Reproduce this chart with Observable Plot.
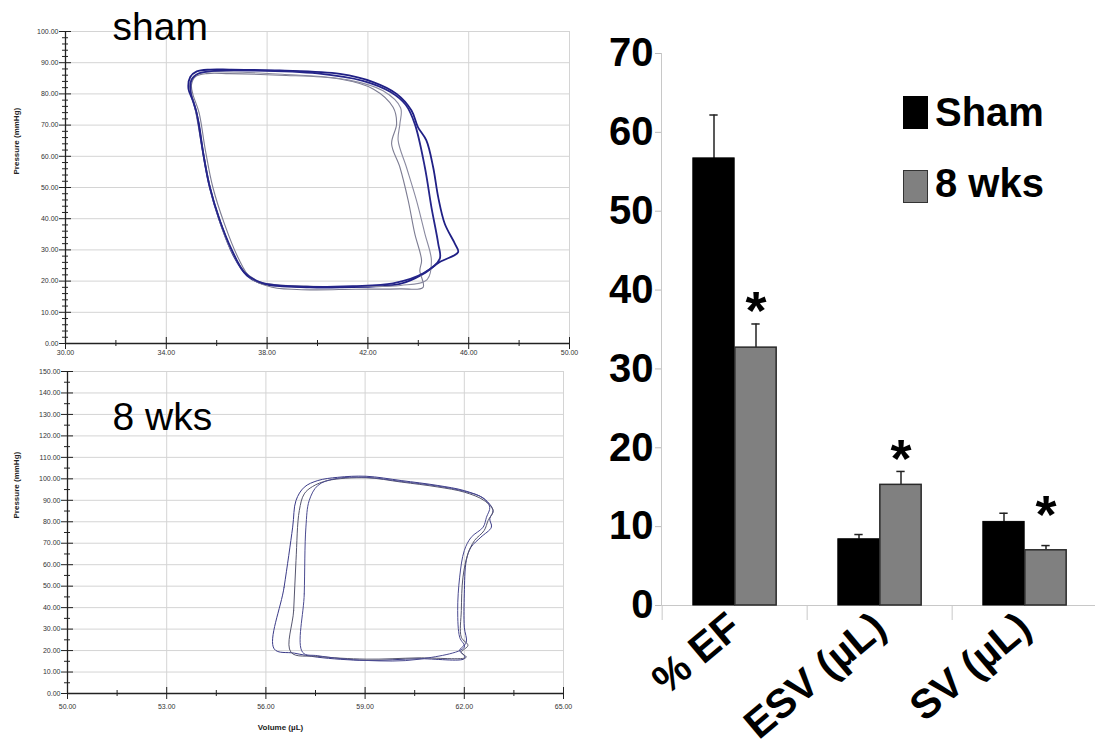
<!DOCTYPE html>
<html>
<head>
<meta charset="utf-8">
<script src="https://cdn.jsdelivr.net/npm/d3@7"></script>
<script src="https://cdn.jsdelivr.net/npm/@observablehq/plot@0.6"></script>
<style>
  html, body { margin: 0; padding: 0; background: #fff; }
  #wrap { position: relative; width: 1095px; height: 756px; overflow: hidden; background: #fff; font-family: "Liberation Sans", Arial, sans-serif; }
  .pane { position: absolute; }
  .pane svg { background: transparent !important; overflow: visible; }
  .leg { position: absolute; left: 903px; display: flex; align-items: flex-end; font-weight: bold; font-size: 40px; line-height: 1; }
  .sw { width: 25px; height: 33px; box-sizing: border-box; margin-right: 7px; }
</style>
</head>
<body>
<div id="wrap">
  <div class="pane" id="sham" style="left:0;top:0"></div>
  <div class="pane" id="wks" style="left:0;top:360px"></div>
  <div class="pane" id="bars" style="left:590px;top:0"></div>
  <div class="leg" style="top:89px"><div class="sw" style="background:#000"></div><span style="position:relative;top:3px">Sham</span></div>
  <div class="leg" style="top:163px"><div class="sw" style="background:#808080;border:1.5px solid #333"></div><span style="position:relative;top:0px">8 wks</span></div>
</div>
<script>
// ---------- Bar chart data ----------
const categories = ["% EF", "ESV (µL)", "SV (µL)"];
const groups = ["Sham", "8 wks"];
const shamMean = [56.7, 8.4, 10.6];
const shamSem  = [5.5, 0.6, 1.1];
const wksMean  = [32.7, 15.3, 7.0];
const wksSem   = [3.0, 1.7, 0.6];
const starred  = [true, true, true];
const barTicks = [0, 10, 20, 30, 40, 50, 60, 70];

// ---------- PV loop axes ----------
const shamVolTicks = [30, 34, 38, 42, 46, 50];
const shamVolMinor = [32, 36, 40, 44, 48];
const shamPresTicks = [0, 10, 20, 30, 40, 50, 60, 70, 80, 90, 100];
const shamPresMinor = [2,4,6,8,12,14,16,18,22,24,26,28,32,34,36,38,42,44,46,48,52,54,56,58,62,64,66,68,72,74,76,78,82,84,86,88,92,94,96,98];
const wksVolTicks = [50, 53, 56, 59, 62, 65];
const wksVolMinor = [51.5, 54.5, 57.5, 60.5, 63.5];
const wksPresTicks = [0,10,20,30,40,50,60,70,80,90,100,110,120,130,140,150];
const wksPresMinor = [5,15,25,35,45,55,65,75,85,95,105,115,125,135,145];

// ---------- PV loops [volume µL, pressure mmHg] ----------
const shamLoop1 = [[45.58,29.3],[45.45,32.0],[45.05,38.4],[44.79,46.9],[44.59,56.5],[44.32,65.1],[43.99,69.3],[43.73,74.7],[43.14,80.0],[42.21,83.8],[40.89,86.4],[38.5,87.5],[36.5,87.8],[35.74,87.8],[35.21,87.2],[34.95,85.4],[34.88,81.6],[35.08,77.4],[35.28,70.9],[35.48,60.3],[35.74,49.6],[36.14,38.9],[36.67,28.2],[37.2,21.8],[37.85,19.1],[39.7,18.0],[40.89,18.0],[43.27,19.1],[44.19,22.3],[44.85,26.1]];
const shamLoop2 = [[44.19,18.0],[44.06,23.4],[44.13,26.6],[43.86,35.2],[43.6,45.8],[43.27,56.5],[42.94,64.0],[43.14,70.4],[43.0,75.7],[42.21,81.6],[40.89,84.8],[38.5,86.0],[36.5,86.5],[35.6,86.5],[35.15,85.5],[35.0,83.0],[35.05,80.0],[35.3,74.0],[35.55,62.0],[35.85,50.0],[36.3,38.5],[36.85,27.5],[37.35,21.0],[38.2,18.0],[39.7,17.2],[41.5,17.4],[43.27,17.5]];
const shamLoop3 = [[44.35,20.5],[44.52,26.6],[44.26,35.2],[43.93,45.8],[43.53,56.5],[43.2,65.1],[43.27,70.4],[43.3,75.5],[42.6,81.0],[41.2,84.5],[38.6,86.3],[36.5,87.0],[35.6,87.0],[35.1,85.8],[34.93,82.5],[35.1,77.0],[35.35,66.0],[35.62,54.0],[36.0,42.0],[36.5,31.0],[37.05,23.5],[37.7,19.8],[39.5,18.4],[41.5,18.3],[43.3,18.6]];
const shamLoop4 = [[44.85,27.1],[44.79,32.0],[44.52,43.7],[44.26,56.5],[43.86,70.4],[43.5,76.5],[42.9,80.6],[41.8,84.2],[40.0,86.6],[37.5,87.5],[35.9,87.4],[35.3,86.6],[35.0,84.5],[34.97,80.5],[35.2,74.0],[35.42,63.0],[35.7,51.0],[36.1,40.0],[36.6,30.0],[37.1,22.8],[37.8,19.4],[39.6,18.2],[41.4,18.4],[43.0,19.3],[44.2,22.5]];

const wksLoop1 = [[56.25,20.8],[56.55,49.5],[56.81,77.5],[56.91,89.9],[57.16,96.1],[57.57,99.2],[58.17,100.7],[59.03,101.2],[60.09,99.2],[61.2,96.9],[62.0,94.5],[62.6,90.7],[62.87,85.2],[62.77,81.4],[62.82,77.5],[62.5,72.8],[62.2,68.1],[62.06,61.9],[62.0,46.4],[62.0,30.9],[62.06,23.9],[61.86,20.0],[62.0,17.7],[62.0,16.2],[60.6,16.2],[59.03,15.4],[57.57,16.9],[56.86,18.8]];
const wksLoop2 = [[56.76,19.2],[56.84,38.7],[56.91,61.9],[57.01,85.2],[57.16,93.0],[57.41,96.4],[57.87,99.2],[59.03,100.5],[60.09,98.5],[61.2,96.2],[62.0,93.8],[62.6,89.9],[62.87,85.2],[62.72,80.6],[62.6,75.9],[62.31,71.3],[62.11,65.1],[61.96,54.2],[61.91,38.7],[61.91,26.2],[62.11,22.4],[61.91,19.2],[62.06,16.9],[60.6,16.6],[59.03,16.0],[57.57,17.3]];
const wksLoop3 = [[57.11,19.2],[57.16,46.4],[57.21,77.5],[57.31,89.9],[57.57,96.9],[58.07,100.0],[59.03,100.7],[60.09,98.8],[61.2,96.6],[62.0,94.2],[62.57,91.1],[62.77,86.8],[62.67,82.1],[62.57,77.5],[62.21,72.8],[62.0,66.6],[61.86,54.2],[61.8,38.7],[61.86,26.2],[62.0,21.6],[60.6,15.9],[59.03,15.4],[57.57,17.6]];

const shamLoops = [shamLoop1, shamLoop2, shamLoop3, shamLoop4];
const wksLoops = [wksLoop1, wksLoop2, wksLoop3];
const shamColors = ["#1f1f85", "#7c7c92", "#8a8aa0", "#25258a"];
const wksColors = ["#3b3b88", "#56566e", "#4a4a90"];

const rows = (loops) => loops.flatMap((L, k) => L.map(([v, p]) => ({loop: k, v, p})));
const fmt2 = d3.format(".2f");
const FONT = "Liberation Sans, Arial, sans-serif";

function pvPlot(o) {
  const fw = o.width - o.ml - o.mr, fh = o.height - o.mt - o.mb;
  const data = rows(o.loops);
  const marks = [
    Plot.gridX(o.xTicks, {stroke: "#d4d4d4", strokeOpacity: 1}),
    Plot.gridY(o.yTicks, {stroke: "#d4d4d4", strokeOpacity: 1}),
    ...o.loops.map((_, k) => Plot.line(data.filter(d => d.loop === k), {x: "v", y: "p", curve: "catmull-rom-closed", stroke: o.colors[k], strokeWidth: o.lw[k]})),
    Plot.ruleX([o.xDomain[0]], {stroke: "#222", strokeWidth: 1.3}),
    Plot.ruleY([0], {stroke: "#222", strokeWidth: 1.3}),
    Plot.tickY(o.yTicks, {y: d => d, insetLeft: -6, insetRight: fw - 6, stroke: "#222"}),
    Plot.tickY(o.yMinor, {y: d => d, insetLeft: -3, insetRight: fw - 3, stroke: "#222"}),
    Plot.tickX(o.xTicks, {x: d => d, insetTop: fh - 6, insetBottom: -6, stroke: "#222"}),
    Plot.tickX(o.xMinor, {x: d => d, insetTop: fh - 3, insetBottom: -3, stroke: "#222"}),
    Plot.axisY(o.yTicks, {tickSize: 0, tickPadding: 7, tickFormat: fmt2, fontSize: 7, fill: "#333", label: null}),
    Plot.axisX(o.xTicks, {tickSize: 0, tickPadding: o.xPad, tickFormat: fmt2, fontSize: 7, fill: "#333", label: null}),
    Plot.text([o.yLabel], {frameAnchor: "left", dx: o.yLabDx, dy: o.yLabDy, rotate: -90, fontSize: 8, fontWeight: "bold", fill: "#222"}),
    Plot.text([o.title], {frameAnchor: "top-left", dx: o.titleDx, dy: o.titleDy, lineAnchor: "top", textAnchor: "start", fontSize: 39, fill: "#000"})
  ];
  if (o.xLabel) marks.push(Plot.text([o.xLabel], {frameAnchor: "bottom", dx: o.xLabDx, dy: o.xLabDy, fontSize: 8, fontWeight: "bold", fill: "#222"}));
  return Plot.plot({
    width: o.width, height: o.height,
    marginLeft: o.ml, marginRight: o.mr, marginTop: o.mt, marginBottom: o.mb,
    style: {fontFamily: FONT, background: "transparent", overflow: "visible"},
    x: {domain: o.xDomain, axis: null},
    y: {domain: o.yDomain, axis: null},
    marks
  });
}

document.getElementById("sham").append(pvPlot({
  width: 590, height: 360, ml: 65, mr: 21, mt: 31, mb: 17,
  loops: shamLoops, colors: shamColors, lw: [1.8, 1.1, 1.1, 1.8],
  xDomain: [30, 50], yDomain: [0, 100],
  xTicks: shamVolTicks, xMinor: shamVolMinor, yTicks: shamPresTicks, yMinor: shamPresMinor,
  xPad: 7, yLabel: "Pressure (mmHg)", yLabDx: -49, yLabDy: -13,
  title: "sham", titleDx: 47, titleDy: -19
}));

document.getElementById("wks").append(pvPlot({
  width: 590, height: 396, ml: 67, mr: 27, mt: 11, mb: 63,
  loops: wksLoops, colors: wksColors, lw: [1.0, 1.0, 1.0],
  xDomain: [50, 65], yDomain: [0, 150],
  xTicks: wksVolTicks, xMinor: wksVolMinor, yTicks: wksPresTicks, yMinor: wksPresMinor,
  xPad: 11, yLabel: "Pressure (mmHg)", yLabDx: -51, yLabDy: -14,
  title: "8 wks", titleDx: 45, titleDy: 31,
  xLabel: "Volume (µL)", xLabDx: -35, xLabDy: 36
}));

// ---------- Bar chart ----------
const barData = categories.map((c, i) => ({cat: c, sham: shamMean[i], shamSem: shamSem[i], wks: wksMean[i], wksSem: wksSem[i], star: starred[i]}));
const bandW = 437 / 3;
const half = 21;
const inset = (bandW - 42) / 2;
const capInset = (bandW - 9) / 2;

document.getElementById("bars").append(Plot.plot({
  width: 505, height: 756,
  marginLeft: 71, marginRight: 0, marginTop: 53, marginBottom: 151,
  style: {fontFamily: FONT, fontSize: "40px", fontWeight: "bold", background: "transparent", overflow: "visible"},
  x: {type: "band", domain: categories, range: [71, 508], padding: 0, axis: null},
  y: {domain: [0, 70], axis: null},
  marks: [
    Plot.ruleY([0], {stroke: "#c8c8c8", strokeWidth: 1}),
    Plot.frame({anchor: "left", stroke: "#c8c8c8", strokeWidth: 1}),
    Plot.ruleX(categories, {x: d => d, y1: 0, y2: 0, dx: -bandW / 2, insetBottom: -15, stroke: "#c8c8c8", strokeWidth: 1}),
    Plot.ruleX(barData, {x: "cat", y1: "sham", y2: d => d.sham + d.shamSem, dx: -half, stroke: "#222", strokeWidth: 1.5}),
    Plot.tickY(barData, {x: "cat", y: d => d.sham + d.shamSem, dx: -half, insetLeft: capInset, insetRight: capInset, stroke: "#222", strokeWidth: 1.5}),
    Plot.ruleX(barData, {x: "cat", y1: "wks", y2: d => d.wks + d.wksSem, dx: half, stroke: "#222", strokeWidth: 1.5}),
    Plot.tickY(barData, {x: "cat", y: d => d.wks + d.wksSem, dx: half, insetLeft: capInset, insetRight: capInset, stroke: "#222", strokeWidth: 1.5}),
    Plot.barY(barData, {x: "cat", y: "sham", dx: -half, insetLeft: inset, insetRight: inset, fill: "#000", stroke: "#000", strokeWidth: 1}),
    Plot.barY(barData, {x: "cat", y: "wks", dx: half, insetLeft: inset, insetRight: inset, fill: "#808080", stroke: "#2a2a2a", strokeWidth: 1.5}),
    Plot.text(barData.filter((d, i) => d.star && i < 2), {x: "cat", y: d => d.wks + d.wksSem, dx: half, dy: -12, text: () => "*", fontSize: 54, fontWeight: "bold", fill: "#000"}),
    Plot.text(barData.filter((d, i) => d.star && i === 2), {x: "cat", y: d => d.wks + d.wksSem, dx: half, dy: -30, text: () => "*", fontSize: 54, fontWeight: "bold", fill: "#000"}),
    Plot.axisY(barTicks, {tickSize: 6, tickPadding: 2, stroke: "#bbb", fill: "#000", fontSize: 40, fontWeight: "bold", label: null}),
    Plot.axisX(categories, {tickSize: 0, tickPadding: 16, tickRotate: -40, fill: "#000", fontSize: 41, fontWeight: "bold", label: null})
  ]
}));
</script>
</body>
</html>
